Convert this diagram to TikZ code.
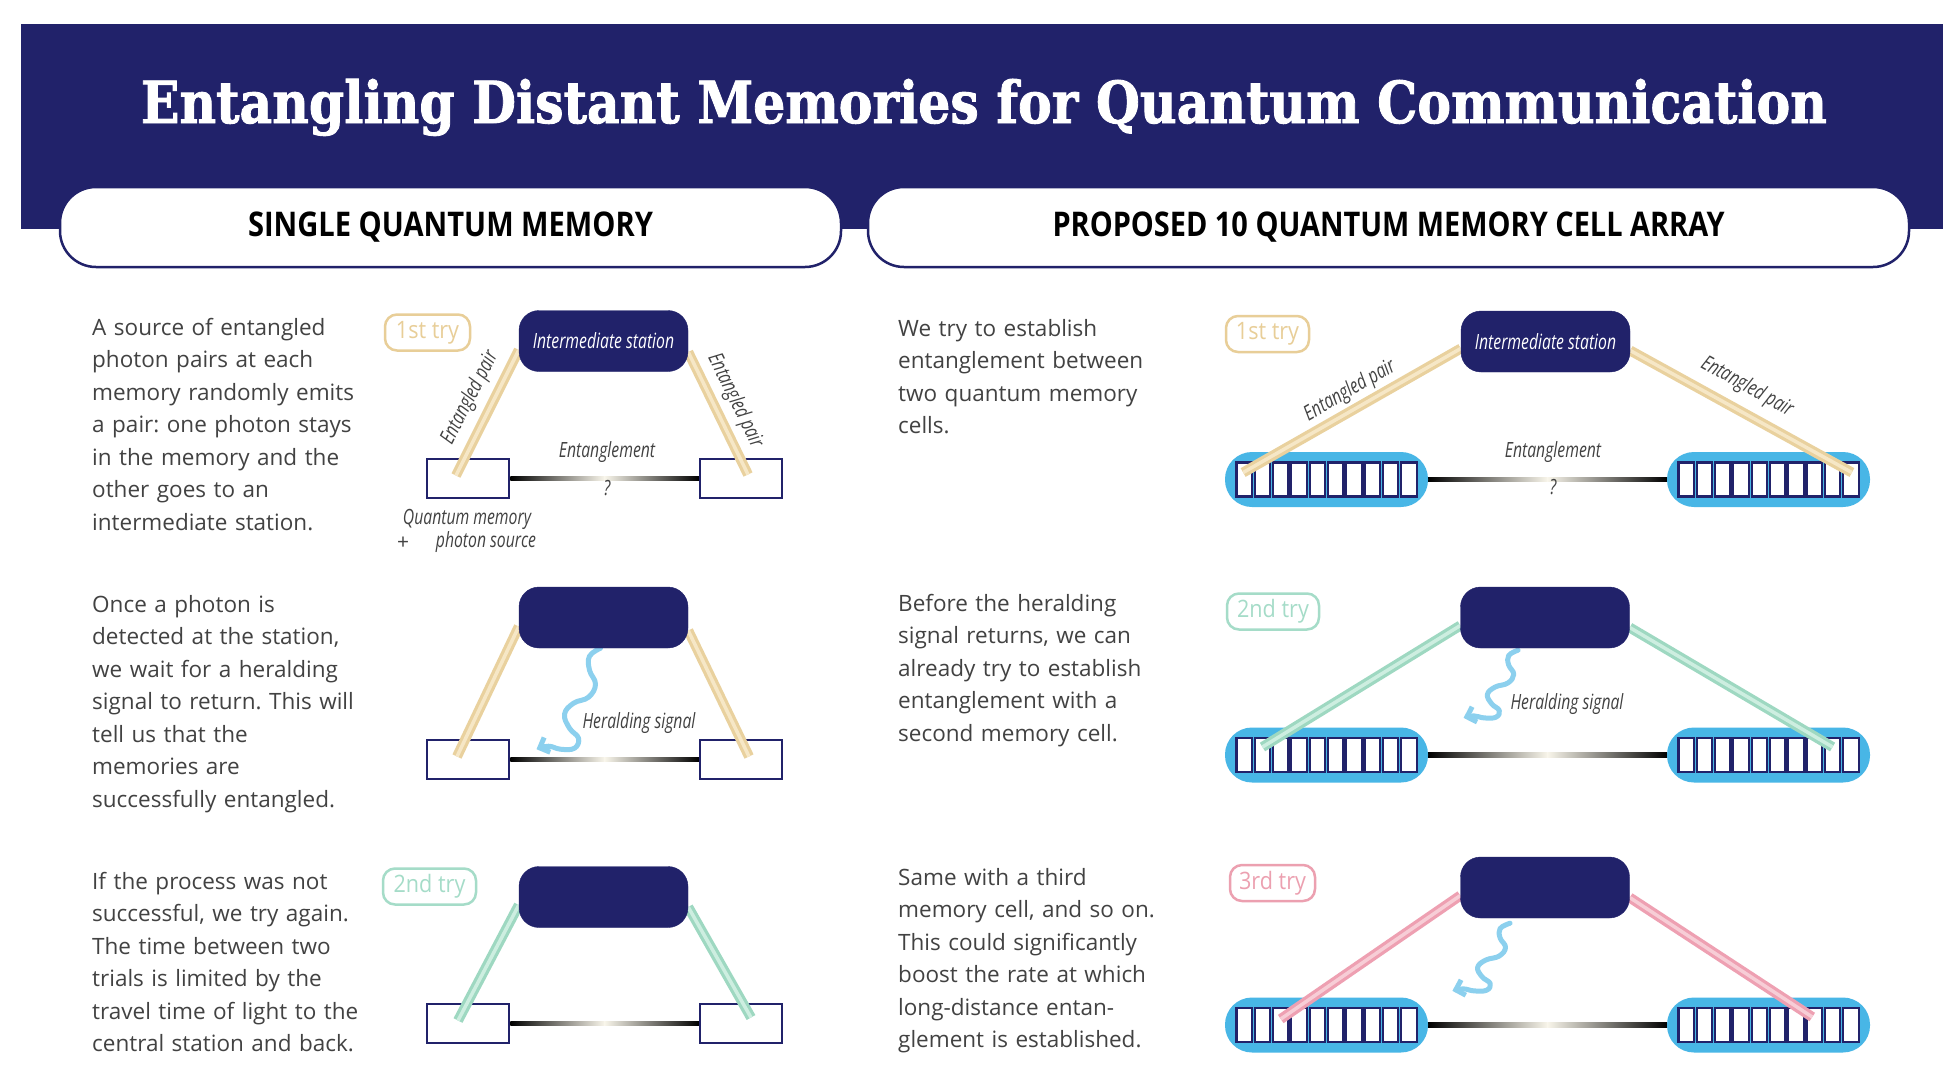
\documentclass[tikz,border=0pt]{standalone}
\usepackage{graphicx}
\usepackage{fontspec}
\setmainfont{Open Sans}
\newfontfamily\titlefont{DejaVu Serif}[BoldFeatures={FakeBold=1.6}]
\usetikzlibrary{calc,arrows.meta}
\pgfdeclarelayer{back}
\pgfdeclarelayer{front}
\pgfsetlayers{back,main,front}
\definecolor{navy}{RGB}{33,34,106}
\definecolor{arr}{RGB}{72,182,230}
\definecolor{tanO}{RGB}{233,209,158}
\definecolor{tanI}{RGB}{246,231,198}
\definecolor{tanT}{RGB}{232,206,152}
\definecolor{grnO}{RGB}{158,216,193}
\definecolor{grnI}{RGB}{205,238,224}
\definecolor{grnT}{RGB}{165,220,200}
\definecolor{pnkO}{RGB}{238,160,178}
\definecolor{pnkI}{RGB}{247,205,214}
\definecolor{pnkT}{RGB}{236,160,176}
\definecolor{heraldc}{RGB}{140,208,238}
\definecolor{bodyc}{RGB}{66,66,66}
\definecolor{midc}{RGB}{248,245,234}
\newcommand{\lbl}[1]{\scalebox{0.75}[1]{\itshape #1}}
\newcommand{\tryt}[1]{\scalebox{0.9}[1]{#1}}
\newcommand{\bodyfont}{\fontsize{22.5}{32.5}\selectfont}
\tikzset{
  station/.style={fill=navy, draw=navy, rounded corners=20pt, minimum width=169pt, minimum height=61pt, inner sep=0pt, text=white, font=\fontsize{21}{24}\selectfont},
  memory/.style={draw=navy, fill=white, line width=2.5pt, minimum width=82pt, minimum height=39pt, inner sep=0pt},
  mcell/.style={draw=navy, fill=white, line width=2.2pt, minimum width=15.5pt, minimum height=34pt, inner sep=0pt},
  marray/.style={fill=arr, rounded corners=27pt, minimum width=203pt, minimum height=55pt, inner sep=0pt},
  trybox/.style={draw=#1, text=#1, line width=2.5pt, rounded corners=12pt, minimum height=36pt, inner sep=0pt, font=\fontsize{24}{26}\selectfont},
  hdr/.style={draw=navy, fill=white, line width=2.5pt, rounded corners=36pt, minimum height=80pt, inner sep=0pt, text=black},
  lab/.style={inner sep=0pt, text=bodyc, font=\fontsize{21}{24}\selectfont},
  para/.style={anchor=base west, inner sep=0pt, align=left, text width=360pt, text=bodyc, font=\bodyfont\frenchspacing},
  herald/.style={draw=heraldc, line width=5pt, -{Straight Barb[length=8pt,width=16pt]}, line cap=round, line join=round}
}
\newcommand{\beam}[3]{\draw[line width=10pt,draw=#1O] #2 -- #3; \draw[line width=3.5pt,draw=#1I] #2 -- #3;}
\newcommand{\entline}[2]{%
  \begin{pgfonlayer}{back}
  \shade[left color=black,right color=midc] ($(#1.east)+(0,-2.3)$) rectangle ($(#1.east)!0.5!(#2.west)+(0,2.3)$);
  \shade[left color=midc,right color=black] ($(#1.east)!0.5!(#2.west)+(0,-2.3)$) rectangle ($(#2.west)+(0,2.3)$);
  \end{pgfonlayer}}
\newcommand{\mkarray}[3]{%
  \node[marray] (#1) at (#2,#3) {};
  \foreach \i in {0,...,9} {\node[mcell] (#1c\i) at ($(#1.center)+({(\i-4.5)*18.3},0)$) {};}}
\newcommand{\squiggle}{plot[smooth,tension=0.7] coordinates {(0,0) (-11,8) (-11,22) (-5,36) (-12,49) (-27,55) (-36,66) (-31,80) (-22,90) (-26,100) (-40,101) (-52,98) (-64,101)}}
\frenchspacing
\begin{document}
\begin{tikzpicture}[x=1pt,y=-1pt]
\useasboundingbox (0,0) rectangle (1953,1080);
\begin{pgfonlayer}{back}
\fill[white] (0,0) rectangle (1953,1080);
\end{pgfonlayer}
% header
\node[fill=navy, minimum width=1922pt, minimum height=205pt, anchor=north west, inner sep=0pt] (band) at (21,24) {};
\node[anchor=base, text=white, inner sep=0pt] (title) at (984,123) {\resizebox{1686pt}{\height}{\titlefont\bfseries\fontsize{58}{60}\selectfont Entangling Distant Memories for Quantum Communication}};
\node[hdr, minimum width=781pt] (hdrL) at (450.5,227) {\resizebox{405pt}{\height}{\bfseries\fontsize{34}{36}\selectfont SINGLE QUANTUM MEMORY}};
\node[hdr, minimum width=1041pt] (hdrR) at (1388.5,227) {\resizebox{672pt}{\height}{\bfseries\fontsize{34}{36}\selectfont PROPOSED 10 QUANTUM MEMORY CELL ARRAY}};

% paragraphs
\node[para] (t1) at (92,335) {A source of entangled\\photon pairs at each\\memory randomly emits\\a pair: one photon stays\\in the memory and the\\other goes to an\\intermediate station.};
\node[para] (t2) at (92,612) {Once a photon is\\detected at the station,\\we wait for a heralding\\signal to return. This will\\tell us that the\\memories are\\successfully entangled.};
\node[para] (t3) at (92,889) {If the process was not\\successful, we try again.\\The time between two\\trials is limited by the\\travel time of light to the\\central station and back.};
\node[para] (t4) at (898,336) {We try to establish\\entanglement between\\two quantum memory\\cells.};
\node[para] (t5) at (898,611) {Before the heralding\\signal returns, we can\\already try to establish\\entanglement with a\\second memory cell.};
\node[para] (t6) at (898,885) {Same with a third\\memory cell, and so on.\\This could significantly\\boost the rate at which\\long-distance entan-\\glement is established.};

% ===== left row 1
\node[memory] (mA1) at (468,478.5) {};
\node[memory] (mA2) at (741,478.5) {};
\begin{pgfonlayer}{front}
\node[station] (sA) at (603.5,341) {\lbl{Intermediate station}};
\end{pgfonlayer}
\entline{mA1}{mA2}
\beam{tan}{($(sA.west)+(0,9)$)}{($(mA1.center)+(-12,-3)$)}
\beam{tan}{($(sA.east)+(0,11)$)}{($(mA2.center)+(7,-4)$)}
\node[trybox=tanT, minimum width=85pt] (tryA) at (427.5,332.5) {\tryt{1st try}};
\node[lab, rotate=63] (epA1) at (470,398) {\lbl{Entangled pair}};
\node[lab, rotate=-64] (epA2) at (735,401) {\lbl{Entangled pair}};
\node[lab] (enA) at (607,452) {\lbl{Entanglement}};
\node[lab] (qA) at (607,488) {\lbl{?}};
\node[lab] (qmA) at (467,519) {\lbl{Quantum memory}};
\node[lab] (plA) at (403,543) {+};
\node[lab] (psA) at (486,542) {\lbl{photon source}};

% ===== left row 2
\node[memory] (mB1) at (468,759.5) {};
\node[memory] (mB2) at (741,759.5) {};
\begin{pgfonlayer}{front}
\node[station] (sB) at (603.5,617.5) {};
\end{pgfonlayer}
\entline{mB1}{mB2}
\beam{tan}{($(sB.west)+(0,9)$)}{($(mB1.center)+(-11,-3)$)}
\beam{tan}{($(sB.east)+(0,13)$)}{($(mB2.center)+(8,-3)$)}
\begin{scope}[shift={($(sB.south)+(-3,0)$)}]
\draw[herald] \squiggle;
\end{scope}
\node[lab] (hsB) at (639,723) {\lbl{Heralding signal}};

% ===== left row 3
\node[memory] (mC1) at (468,1023.5) {};
\node[memory] (mC2) at (741,1023.5) {};
\begin{pgfonlayer}{front}
\node[station] (sC) at (603.5,897) {};
\end{pgfonlayer}
\entline{mC1}{mC2}
\beam{grn}{($(sC.west)+(0,8)$)}{($(mC1.center)+(-10,-3)$)}
\beam{grn}{($(sC.east)+(0,10)$)}{($(mC2.center)+(10,-6)$)}
\node[trybox=grnT, minimum width=93pt] (tryC) at (429.5,886.5) {\tryt{2nd try}};

% ===== right row 1
\mkarray{aD1}{1326.5}{479.5}
\mkarray{aD2}{1768.5}{479.5}
\begin{pgfonlayer}{front}
\node[station] (sD) at (1545.5,341.5) {\lbl{Intermediate station}};
\end{pgfonlayer}
\entline{aD1}{aD2}
\beam{tan}{($(sD.west)+(0,7)$)}{($(aD1c0.center)+(-1,-7)$)}
\beam{tan}{($(sD.east)+(0,9)$)}{($(aD2c9.center)+(1,-7)$)}
\node[trybox=tanT, minimum width=83pt] (tryD) at (1267.5,334) {\tryt{1st try}};
\node[lab, rotate=30] (epD1) at (1350,391) {\lbl{Entangled pair}};
\node[lab, rotate=-29] (epD2) at (1747,387) {\lbl{Entangled pair}};
\node[lab] (enD) at (1553,452) {\lbl{Entanglement}};
\node[lab] (qD) at (1553,487) {\lbl{?}};

% ===== right row 2
\mkarray{aE1}{1326.5}{755}
\mkarray{aE2}{1768.5}{755}
\begin{pgfonlayer}{front}
\node[station] (sE) at (1545,617.5) {};
\end{pgfonlayer}
\entline{aE1}{aE2}
\beam{grn}{($(sE.west)+(0,8)$)}{($(aE1c1.center)+(0,-8)$)}
\beam{grn}{($(sE.east)+(0,10)$)}{($(aE2c8.center)+(0,-8)$)}
\begin{scope}[shift={($(sE.south)+(-27,2)$)}, xscale=0.85, yscale=0.67]
\draw[herald] \squiggle;
\end{scope}
\node[lab] (hsE) at (1567,704) {\lbl{Heralding signal}};
\node[trybox=grnT, minimum width=92pt] (tryE) at (1273,611.5) {\tryt{2nd try}};

% ===== right row 3
\mkarray{aF1}{1326.5}{1025}
\mkarray{aF2}{1768.5}{1025}
\begin{pgfonlayer}{front}
\node[station] (sF) at (1545,887.5) {};
\end{pgfonlayer}
\entline{aF1}{aF2}
\beam{pnk}{($(sF.west)+(0,8)$)}{($(aF1c2.center)+(0,-6)$)}
\beam{pnk}{($(sF.east)+(0,10)$)}{($(aF2c7.center)+(-2,-8)$)}
\begin{scope}[shift={($(sF.south)+(-35,5)$)}, xscale=0.9, yscale=0.67]
\draw[herald] \squiggle;
\end{scope}
\node[trybox=pnkT, minimum width=85pt] (tryF) at (1272.5,883) {\tryt{3rd try}};
\end{tikzpicture}
\end{document}
